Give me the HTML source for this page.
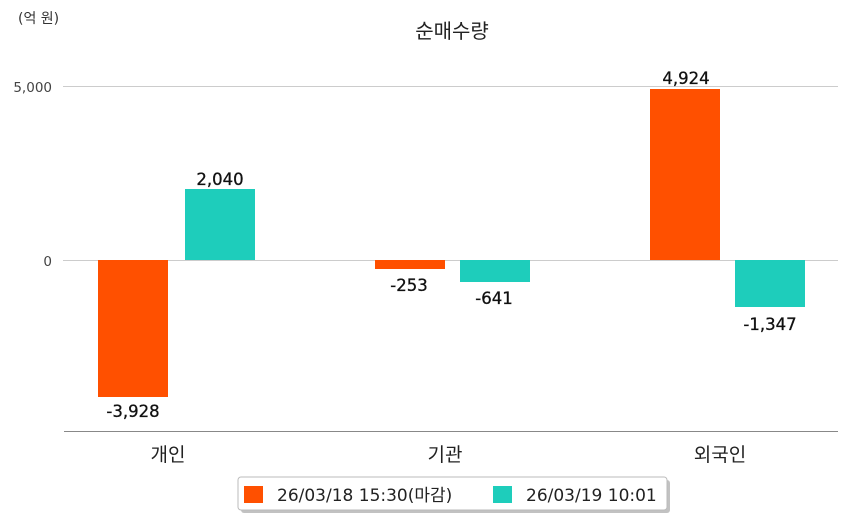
<!DOCTYPE html>
<html><head><meta charset="utf-8"><style>
html,body{margin:0;padding:0;background:#fff;}
svg{display:block;font-family:"DejaVu Sans","Noto Sans CJK KR",sans-serif;}
</style></head><body>
<svg width="849" height="520" viewBox="0 0 849 520">
<text x="18" y="23" font-size="14" fill="#333">(억 원)</text>
<text x="452" y="38" font-size="20" fill="#222" text-anchor="middle">순매수량</text>
<line x1="63" y1="86.5" x2="838" y2="86.5" stroke="#ccc" stroke-width="1"/>
<line x1="63" y1="260.5" x2="838" y2="260.5" stroke="#ccc" stroke-width="1"/>
<line x1="64" y1="431.5" x2="838" y2="431.5" stroke="#888" stroke-width="1"/>
<text x="52" y="92" font-size="13.5" fill="#444" text-anchor="end">5,000</text>
<text x="52" y="266" font-size="13.5" fill="#444" text-anchor="end">0</text>
<g fill="#ff5000">
<rect x="98" y="260" width="70" height="137"/>
<rect x="375" y="260" width="70" height="9"/>
<rect x="650" y="89" width="70" height="171"/>
</g>
<g fill="#1ecdbb">
<rect x="185" y="189" width="70" height="71"/>
<rect x="460" y="260" width="70" height="22"/>
<rect x="735" y="260" width="70" height="47"/>
</g>
<g font-size="16.5" fill="#111" text-anchor="middle" stroke="#111" stroke-width="0.3">
<text x="133" y="417">-3,928</text>
<text x="220" y="185">2,040</text>
<text x="409" y="291">-253</text>
<text x="494" y="304">-641</text>
<text x="686" y="84">4,924</text>
<text x="770" y="330">-1,347</text>
</g>
<g font-size="19" fill="#222" text-anchor="middle">
<text x="168" y="461">개인</text>
<text x="445" y="461">기관</text>
<text x="720" y="461">외국인</text>
</g>
<rect x="241" y="480" width="429" height="33" rx="3" fill="#999" opacity="0.6"/>
<rect x="238" y="477" width="429" height="33" rx="3" fill="#fff" stroke="#bbb"/>
<rect x="244" y="486" width="19" height="17" fill="#ff5000"/>
<text x="277" y="501" font-size="17" fill="#222">26/03/18 15:30(마감)</text>
<rect x="493" y="486" width="19" height="17" fill="#1ecdbb"/>
<text x="526" y="501" font-size="17" fill="#222">26/03/19 10:01</text>
</svg>
</body></html>
